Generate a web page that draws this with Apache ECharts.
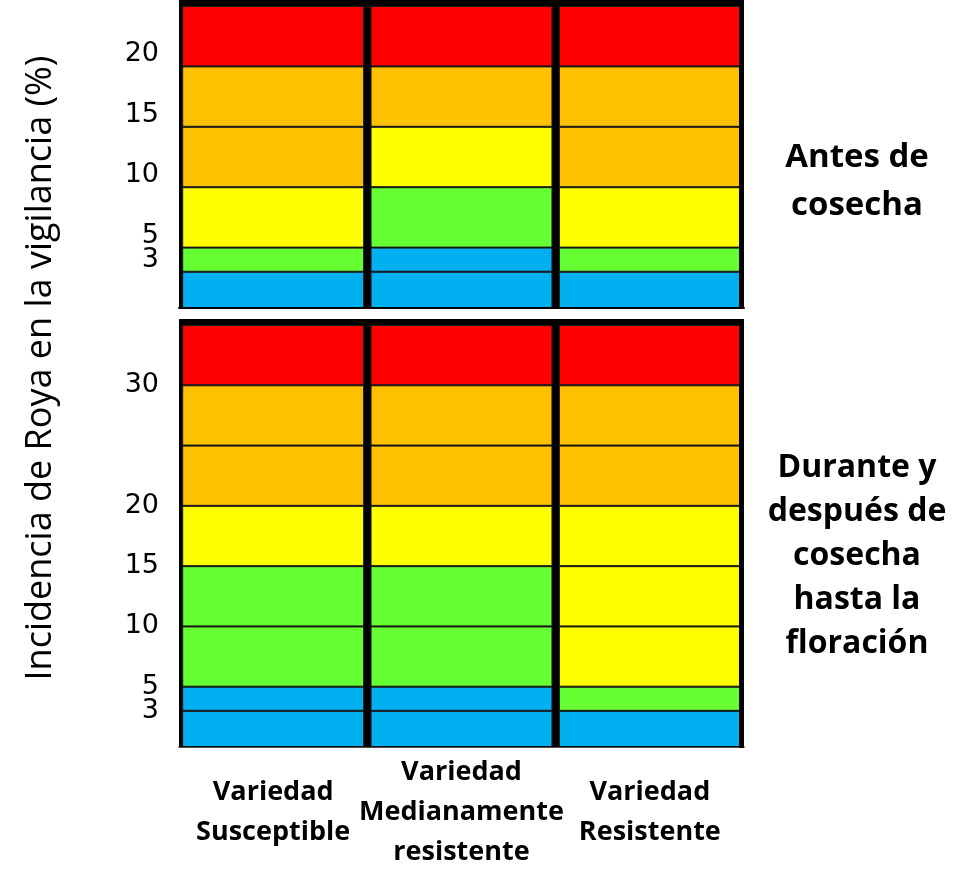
<!DOCTYPE html>
<html>
<head>
<meta charset="utf-8">
<script src="https://cdn.jsdelivr.net/npm/echarts@6/dist/echarts.min.js"></script>
<style>
html,body{margin:0;padding:0;background:#fff;}
#chart{width:975px;height:896px;}
</style>
</head>
<body>
<div id="chart"></div>
<script>
// ---- data ----
var categories = ['Variedad\nSusceptible', 'Variedad\nMedianamente\nresistente', 'Variedad\nResistente'];

// Panel 1: "Antes de cosecha"
var beforeBounds = [0, 3, 5, 10, 15, 20, 25];
var beforeTicks = [3, 5, 10, 15, 20];
var beforeSusceptible = ['blue', 'green', 'yellow', 'orange', 'orange', 'red'];
var beforeMedium      = ['blue', 'blue', 'green', 'yellow', 'orange', 'red'];
var beforeResistant   = ['blue', 'green', 'yellow', 'orange', 'orange', 'red'];

// Panel 2: "Durante y después de cosecha hasta la floración"
var afterBounds = [0, 3, 5, 10, 15, 20, 25, 30, 35];
var afterTicks = [3, 5, 10, 15, 20, 30];
var afterSusceptible = ['blue', 'blue', 'green', 'green', 'yellow', 'orange', 'orange', 'red'];
var afterMedium      = ['blue', 'blue', 'green', 'green', 'yellow', 'orange', 'orange', 'red'];
var afterResistant   = ['blue', 'green', 'yellow', 'yellow', 'yellow', 'orange', 'orange', 'red'];

var yTitle = 'Incidencia de Roya en la vigilancia (%)';
var panelTitles = ['Antes de\ncosecha', 'Durante y\ndespués de\ncosecha\nhasta la\nfloración'];

var palette = { red: '#FF0000', orange: '#FFC000', yellow: '#FFFF00', green: '#66FF33', blue: '#00B0F0' };

// ---- build ----
function bandSeries(bounds, cols, axisIndex) {
  var out = [];
  for (var i = 0; i < bounds.length - 1; i++) {
    var size = bounds[i + 1] - bounds[i];
    out.push({
      type: 'bar',
      stack: 'p' + axisIndex,
      xAxisIndex: axisIndex,
      yAxisIndex: axisIndex,
      barCategoryGap: '3.4%',
      silent: true,
      itemStyle: { borderColor: '#1a1a1a', borderWidth: 1 },
      data: cols.map(function (c) {
        return { value: size, itemStyle: { color: palette[c[i]] } };
      })
    });
  }
  return out;
}

var chart = echarts.init(document.getElementById('chart'), null, { renderer: 'canvas' });

var gridL = 179, gridW = 565;

// Tick labels are split over two overlaid left axes (alternating) so that close
// labels (3 and 5) are both kept.
function yAxes(gridIndex, bounds, ticks, extraLabel) {
  var mk = function (vals) {
    return {
      type: 'value', gridIndex: gridIndex, position: 'left', offset: 0,
      min: bounds[0], max: bounds[bounds.length - 1],
      axisLine: { show: false }, axisTick: { show: false }, splitLine: { show: false },
      axisLabel: Object.assign({
        customValues: vals, color: '#000', fontFamily: 'DejaVu Sans', fontSize: 27, margin: 20,
        hideOverlap: false, showMinLabel: true, showMaxLabel: true
      }, extraLabel)
    };
  };
  return [
    mk(ticks.filter(function (v, i) { return i % 2 === 0; })),
    mk(ticks.filter(function (v, i) { return i % 2 === 1; }))
  ];
}

var yA = yAxes(0, beforeBounds, beforeTicks, { verticalAlign: 'bottom', lineHeight: 24 });
var yB = yAxes(1, afterBounds, afterTicks, { verticalAlign: 'middle', lineHeight: 22 });

var option = {
  animation: false,
  backgroundColor: '#fff',
  grid: [
    { left: gridL, top: 6, width: gridW, height: 302, show: true, backgroundColor: '#000', borderWidth: 0 },
    { left: gridL, top: 325, width: gridW, height: 422, show: true, backgroundColor: '#000', borderWidth: 0 }
  ],
  xAxis: [
    { type: 'category', gridIndex: 0, data: categories, z: 10,
      axisLine: { show: true, lineStyle: { color: '#000', width: 2 } },
      axisTick: { show: false }, axisLabel: { show: false } },
    { type: 'category', gridIndex: 1, data: categories, z: 10,
      axisLine: { show: true, lineStyle: { color: '#111', width: 1.5 } },
      axisTick: { show: false },
      axisLabel: { show: true, color: '#000', fontFamily: 'Open Sans', fontWeight: 'bold',
        fontSize: 27, lineHeight: 40, verticalAlign: 'middle', margin: 65, interval: 0 } }
  ],
  // y axis order: 0 = panel 1 (bars), 1 = panel 2 (bars), 2 = panel 1 extra labels, 3 = panel 2 extra labels
  yAxis: [yA[0], yB[0], yA[1], yB[1]],
  series: []
    .concat(bandSeries(beforeBounds, [beforeSusceptible, beforeMedium, beforeResistant], 0))
    .concat(bandSeries(afterBounds, [afterSusceptible, afterMedium, afterResistant], 1)),
  graphic: [
    { type: 'rect', shape: { x: gridL, y: 0, width: gridW, height: 6 }, style: { fill: '#000' }, silent: true },
    { type: 'rect', shape: { x: gridL, y: 319, width: gridW, height: 6 }, style: { fill: '#000' }, silent: true },
    { type: 'rect', shape: { x: 739, y: 0, width: 5, height: 309 }, style: { fill: '#000' }, silent: true, z: 50 },
    { type: 'rect', shape: { x: 739, y: 319, width: 5, height: 429 }, style: { fill: '#000' }, silent: true, z: 50 },
    { type: 'text', x: 41, y: 368, rotation: Math.PI / 2,
      style: { text: yTitle, fill: '#000', font: '36px "Open Sans"', textAlign: 'center', textVerticalAlign: 'middle' } },
    { type: 'text', x: 857, y: 182,
      style: { text: panelTitles[0], fill: '#000', font: 'bold 33px "Open Sans"', lineHeight: 48,
        textAlign: 'center', textVerticalAlign: 'middle' } },
    { type: 'text', x: 857, y: 556,
      style: { text: panelTitles[1], fill: '#000', font: 'bold 32px "Open Sans"', lineHeight: 44,
        textAlign: 'center', textVerticalAlign: 'middle' } }
  ]
};
chart.setOption(option);
</script>
</body>
</html>
